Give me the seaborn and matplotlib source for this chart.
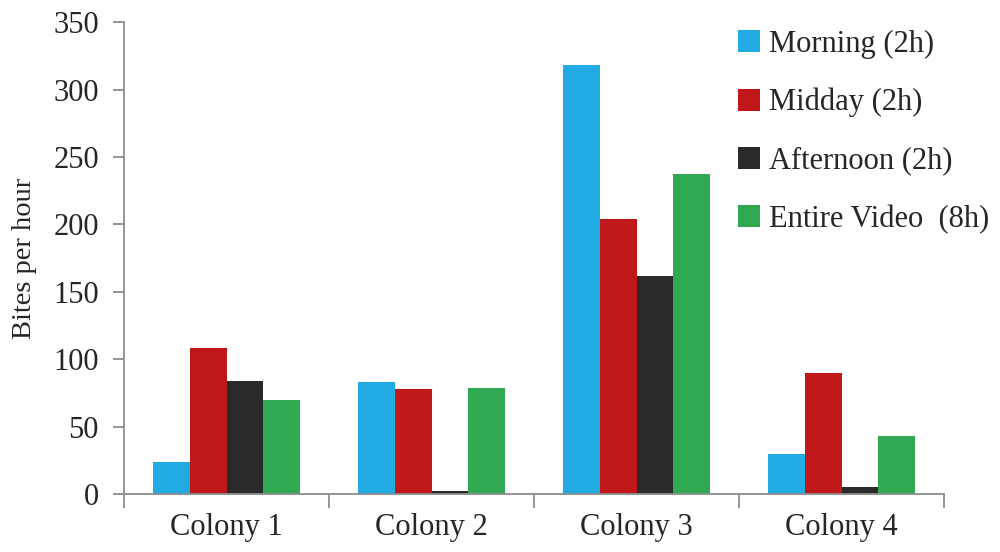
import matplotlib
matplotlib.use("Agg")
import matplotlib.pyplot as plt
import numpy as np
import pandas as pd
import seaborn as sns

colonies = ["Colony 1", "Colony 2", "Colony 3", "Colony 4"]
periods = ["Morning (2h)", "Midday (2h)", "Afternoon (2h)", "Entire Video  (8h)"]
morning = [24, 83, 318, 30]
midday = [108, 78, 204, 90]
afternoon = [84, 2, 162, 5]
entire = [70, 79, 237, 43]
colors = ["#22ABE2", "#C0171B", "#2A2A2A", "#31A852"]

df = pd.DataFrame({
    "colony": colonies * 4,
    "period": np.repeat(periods, 4),
    "bites": morning + midday + afternoon + entire,
})

sns.set_style("white")
plt.rcParams["font.family"] = ["Liberation Serif", "DejaVu Serif"]

fig = plt.figure(figsize=(10, 5.52), dpi=100)
ax = fig.add_axes([0.124, 0.105, 0.82, 0.855])

sns.barplot(data=df, x="colony", y="bites", hue="period", hue_order=periods,
            palette=colors, saturation=1, width=0.72, gap=0, linewidth=0, ax=ax)

ax.set_ylim(0, 350)
ax.set_yticks(range(0, 351, 50))
ax.set_xlim(-0.5, 3.5)
ax.set_xlabel("")
ax.set_ylabel("Bites per hour", fontsize=20.5, labelpad=12)

for s in ["top", "right"]:
    ax.spines[s].set_visible(False)
for s in ["left", "bottom"]:
    ax.spines[s].set_color("#8c8c8c")
    ax.spines[s].set_linewidth(1.3)

ax.tick_params(axis="y", which="major", direction="out", length=8, width=1.3,
               color="#8c8c8c", labelsize=22, pad=10, left=True)
ax.tick_params(axis="x", which="major", length=0, labelsize=22, pad=14)
ax.set_xticks(np.arange(-0.5, 4, 1), minor=True)
ax.tick_params(axis="x", which="minor", direction="out", length=10, width=1.3,
               color="#8c8c8c", bottom=True)

leg = ax.legend(loc="upper left", bbox_to_anchor=(0.738, 0.946),
                bbox_transform=fig.transFigure, frameon=False, fontsize=22,
                handlelength=0.72, handleheight=0.72, handletextpad=0.3,
                labelspacing=0.95, borderpad=0, borderaxespad=0)

fig.savefig("out.png", dpi=100)
